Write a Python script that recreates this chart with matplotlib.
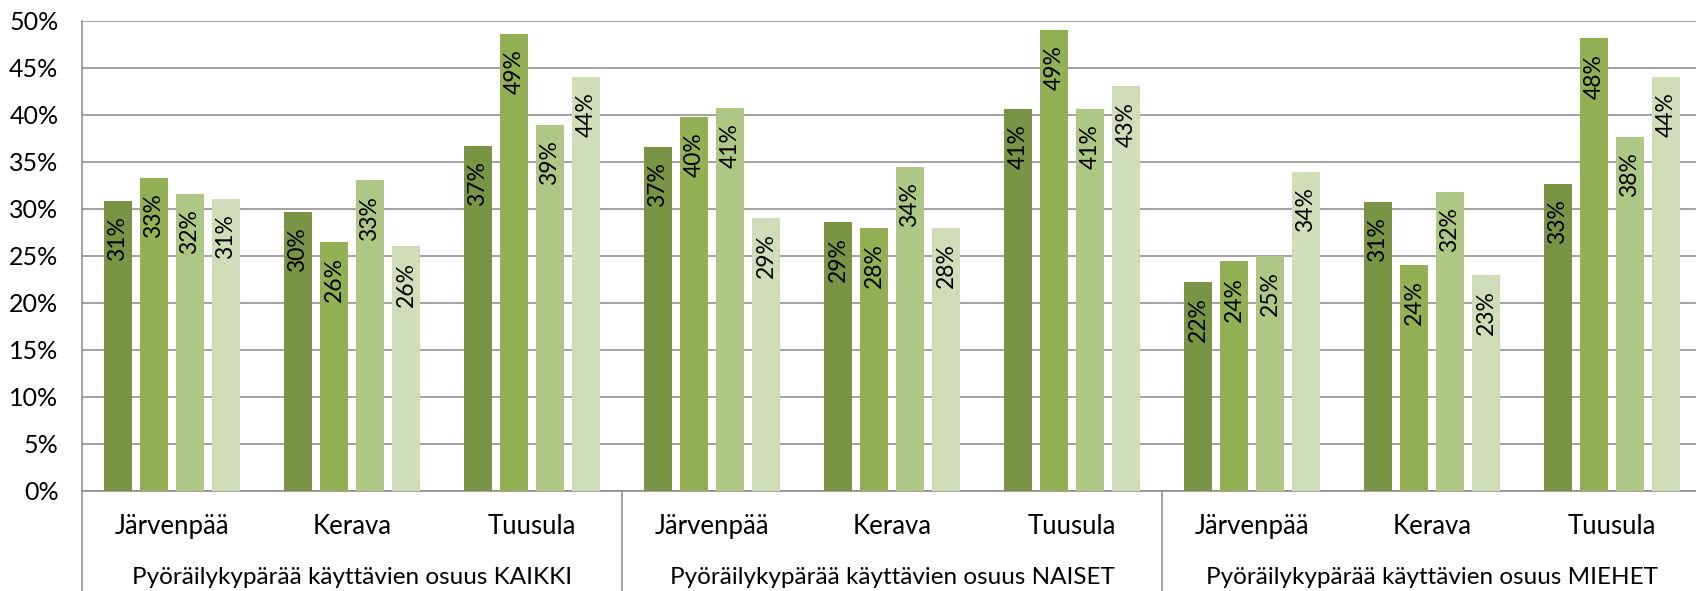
import numpy as np
import matplotlib.pyplot as plt
import matplotlib.transforms as mtransforms

plt.rcParams['font.family'] = ['Lato', 'DejaVu Sans']

# ryhmät ja kunnat
groups = ["Pyöräilykypärää käyttävien osuus KAIKKI",
          "Pyöräilykypärää käyttävien osuus NAISET",
          "Pyöräilykypärää käyttävien osuus MIEHET"]
cities = ["Järvenpää", "Kerava", "Tuusula"]

# neljä sarjaa, arvot prosentteina (luettu kuvasta)
s1 = [30.85, 29.6, 36.7, 36.55, 28.55, 40.6, 22.2, 30.7, 32.6]
s2 = [33.3, 26.45, 48.6, 39.7, 27.95, 49.0, 24.4, 24.0, 48.1]
s3 = [31.6, 33.0, 38.9, 40.7, 34.4, 40.6, 25.0, 31.8, 37.6]
s4 = [31.0, 26.0, 44.0, 29.0, 27.95, 43.0, 33.9, 23.0, 44.0]
series = [s1, s2, s3, s4]
colors = ["#7a9445", "#93b055", "#afc784", "#cfddb9"]

#%% kuva
fig = plt.figure(figsize=(16.96, 5.91), dpi=100)
ax = fig.add_axes([82/1696, 100/591, 1620/1696, 470.5/591])

x = np.arange(len(s1))
offsets = [-0.3, -0.1, 0.1, 0.3]
for vals, off, c in zip(series, offsets, colors):
    bars = ax.bar(x + off, vals, width=0.16, color=c, zorder=3)
    for b, v in zip(bars, vals):
        ax.annotate(f"{v:.0f}%", (b.get_x() + b.get_width()/2, v),
                    xytext=(0, -11), textcoords="offset points",
                    rotation=90, ha="center", va="top", fontsize=16.5, zorder=4)

ax.set_xlim(-0.5, 8.5)
ax.set_ylim(0, 50)
ax.set_yticks(np.arange(0, 51, 5))
ax.set_yticklabels([f"{t}%" for t in range(0, 51, 5)], fontsize=18)
ax.set_xticks([])
ax.tick_params(axis="y", length=0, pad=17)
ax.yaxis.grid(True, color="#8a8a8a", linewidth=1.1, zorder=0)
for s in ["top", "right", "left"]:
    ax.spines[s].set_visible(False)
ax.spines["bottom"].set_color("#8a8a8a")
ax.spines["bottom"].set_linewidth(1.1)

trans = mtransforms.blended_transform_factory(ax.transData, ax.transAxes)
# erottimet
ax.plot([-0.5, -0.5], [1, -0.3], transform=trans, color="#8a8a8a", lw=1.1, clip_on=False)
for sep in [2.5, 5.5]:
    ax.plot([sep, sep], [0, -0.3], transform=trans, color="#8a8a8a", lw=1.1, clip_on=False)

for i in range(9):
    ax.text(i, -0.0765, cities[i % 3], transform=trans, ha="center", va="center", fontsize=18.5)
for g, name in enumerate(groups):
    ax.text(3*g + 1, -0.183, name, transform=trans, ha="center", va="center", fontsize=17.5)

fig.savefig("out.png", dpi=100)
